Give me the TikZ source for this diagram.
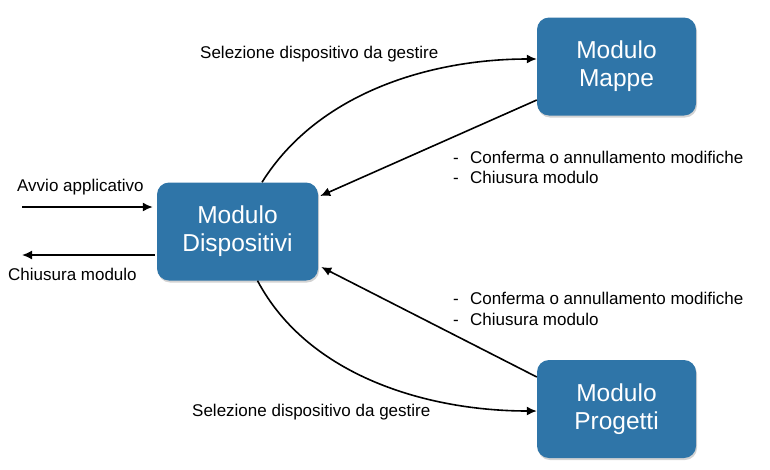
\documentclass[tikz,border=0pt]{standalone}
\usepackage{fontspec}
\setmainfont{Liberation Sans}
\usetikzlibrary{arrows.meta,shadows}
\definecolor{boxblue}{RGB}{47,117,168}
\begin{document}
\begin{tikzpicture}[x=1pt,y=-1pt,
  modbox/.style={draw=none,fill=boxblue,rounded corners=12pt,minimum width=159pt,minimum height=98pt,
    text=white,align=center,font=\fontsize{24.5}{28}\selectfont,
    drop shadow={opacity=0.35,shadow xshift=1pt,shadow yshift=-2pt}},
  lbl/.style={font=\fontsize{17}{20}\selectfont,inner sep=0pt,anchor=base west},
  conn/.style={line width=1.6pt,-{Latex[length=10pt,width=9pt]}}]
\useasboundingbox (0,0) rectangle (770,469);
\node[modbox,minimum width=161pt] (disp) at (237.5,231.5) {Modulo\\Dispositivi};
\node[modbox] (mappe) at (616.5,66.5) {Modulo\\Mappe};
\node[modbox] (prog) at (616.5,409) {Modulo\\Progetti};
% left arrows
\coordinate (a1) at (22,207);
\coordinate (a2) at (disp.west |- a1);
\draw[conn] (a1) -- ([xshift=-4pt]a2);
\coordinate (c1) at (22,255);
\coordinate (c2) at (disp.west |- c1);
\draw[conn] ([xshift=-2pt]c2) -- (c1);
\node[lbl] (avvio) at (17,191) {Avvio applicativo};
\node[lbl] (chius) at (8,280) {Chiusura modulo};
% curves
\draw[conn] ([xshift=24.5pt]disp.north) to[out=58,in=180,looseness=0.9] ([yshift=7.5pt]mappe.west);
\draw[conn] ([xshift=20pt]disp.south) to[out=-62,in=180,looseness=0.9] ([yshift=-2pt]prog.west);
% straight lines
\draw[conn] ([yshift=-33.5pt]mappe.west) -- ([xshift=2pt,yshift=35.5pt]disp.east);
\draw[conn] ([yshift=32pt]prog.west) -- ([xshift=3pt,yshift=-35.5pt]disp.east);
% labels
\node[lbl] (sel1) at (200,58) {Selezione dispositivo da gestire};
\node[lbl] (sel2) at (192,416) {Selezione dispositivo da gestire};
\node[lbl] (d1) at (453,163) {-};
\node[lbl] (t1) at (470,163) {Conferma o annullamento modifiche};
\node[lbl] (d2) at (453,183) {-};
\node[lbl] (t2) at (470,183) {Chiusura modulo};
\node[lbl] (d3) at (453,304) {-};
\node[lbl] (t3) at (470,304) {Conferma o annullamento modifiche};
\node[lbl] (d4) at (453,325) {-};
\node[lbl] (t4) at (470,325) {Chiusura modulo};
\end{tikzpicture}
\end{document}
